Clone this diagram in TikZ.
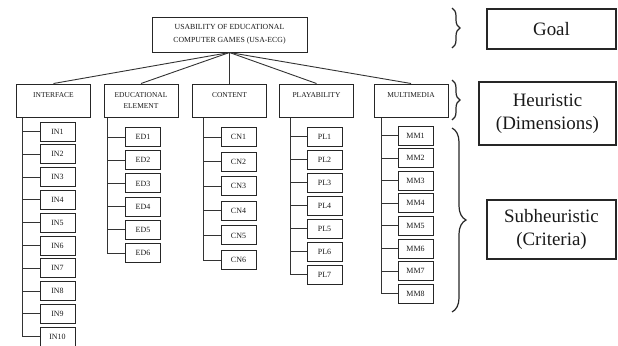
\documentclass[tikz,border=0pt]{standalone}
\usepackage{fontspec}
\setmainfont{Liberation Serif}
\usetikzlibrary{positioning,decorations.pathreplacing}

\tikzset{
  box/.style={draw=black!85, line width=1bp, inner sep=0pt, text=black!90},
  dimbox/.style={box, minimum width=74bp, minimum height=33bp, font=\fontsize{7.5}{12}\selectfont},
  itembox/.style={box, minimum width=35bp, minimum height=19bp, font=\fontsize{8}{9}\selectfont},
  levelbox/.style={draw=black!85, line width=1.4bp, align=center, text=black!90, font=\fontsize{19}{23.5}\selectfont},
  link/.style={draw=black!80, line width=0.9bp},
  bracket/.style={draw=black!85, decorate, decoration={brace, amplitude=#1}, line width=1.2bp},
}
\newcommand{\dimlabel}[1]{\parbox[c][33bp][t]{74bp}{\centering\rule{0pt}{13bp}#1}}

\begin{document}
\begin{tikzpicture}[x=1bp, y=-1bp]
    \useasboundingbox (0,0) rectangle (618,345);

    %% Goal
    \node[box, minimum width=155bp, minimum height=35bp, align=center,
          font=\fontsize{7.8}{13}\selectfont] (usa) at (229.5,34.5)
    {USABILITY OF EDUCATIONAL\\COMPUTER GAMES (USA-ECG)};

    %% Heuristics
    \node[dimbox] (inter) at (53.5,100.5) {\dimlabel{INTERFACE}};
    \node[dimbox] (edu)   at (141,100.5)  {\dimlabel{EDUCATIONAL\\ELEMENT}};
    \node[dimbox] (cont)  at (229.5,100.5) {\dimlabel{CONTENT}};
    \node[dimbox] (play)  at (316.5,100.5) {\dimlabel{PLAYABILITY}};
    \node[dimbox] (multi) at (411,100.5)  {\dimlabel{MULTIMEDIA}};

    \foreach \d in {inter,edu,cont,play,multi}
        \draw[link] (usa.south) -- (\d.north);

    %% Subheuristics
    \coordinate (inS)    at ([xshift=6.5bp]inter.south west);
    \coordinate (eduS)   at ([xshift=4bp]edu.south west);
    \coordinate (contS)  at ([xshift=11.5bp]cont.south west);
    \coordinate (playS)  at ([xshift=11.5bp]play.south west);
    \coordinate (multiS) at ([xshift=8bp]multi.south west);

    \foreach \i in {1,...,10} {
        \node[itembox] (in\i) at (57.5,{131.5+22.8*(\i-1)}) {IN\i};
        \draw[link] (inS) |- (in\i.west);
    }
    \foreach \i in {1,...,6} {
        \node[itembox] (ed\i) at (143,{137+23.2*(\i-1)}) {ED\i};
        \draw[link] (eduS) |- (ed\i.west);
    }
    \foreach \i in {1,...,6} {
        \node[itembox] (cn\i) at (238.5,{137+24.6*(\i-1)}) {CN\i};
        \draw[link] (contS) |- (cn\i.west);
    }
    \foreach \i in {1,...,7} {
        \node[itembox] (pl\i) at (324.5,{136.5+23*(\i-1)}) {PL\i};
        \draw[link] (playS) |- (pl\i.west);
    }
    \foreach \i in {1,...,8} {
        \node[itembox] (mm\i) at (415.5,{135.5+22.6*(\i-1)}) {MM\i};
        \draw[link] (multiS) |- (mm\i.west);
    }

    %% Levels
    \draw[bracket=8bp]  (452,8)   -- (452,48);
    \draw[bracket=8bp]  (452,80)  -- (452,120);
    \draw[bracket=14bp] (452,128) -- (452,312);

    \node[levelbox, minimum width=129bp, minimum height=40bp] (goal) at (551.5,29) {Goal};
    \node[levelbox, minimum width=137bp, minimum height=63bp] (heur) at (547.5,113.5) {Heuristic\\(Dimensions)};
    \node[levelbox, minimum width=129bp, minimum height=59bp] (sub)  at (551.5,229.5) {Subheuristic\\(Criteria)};
\end{tikzpicture}
\end{document}
